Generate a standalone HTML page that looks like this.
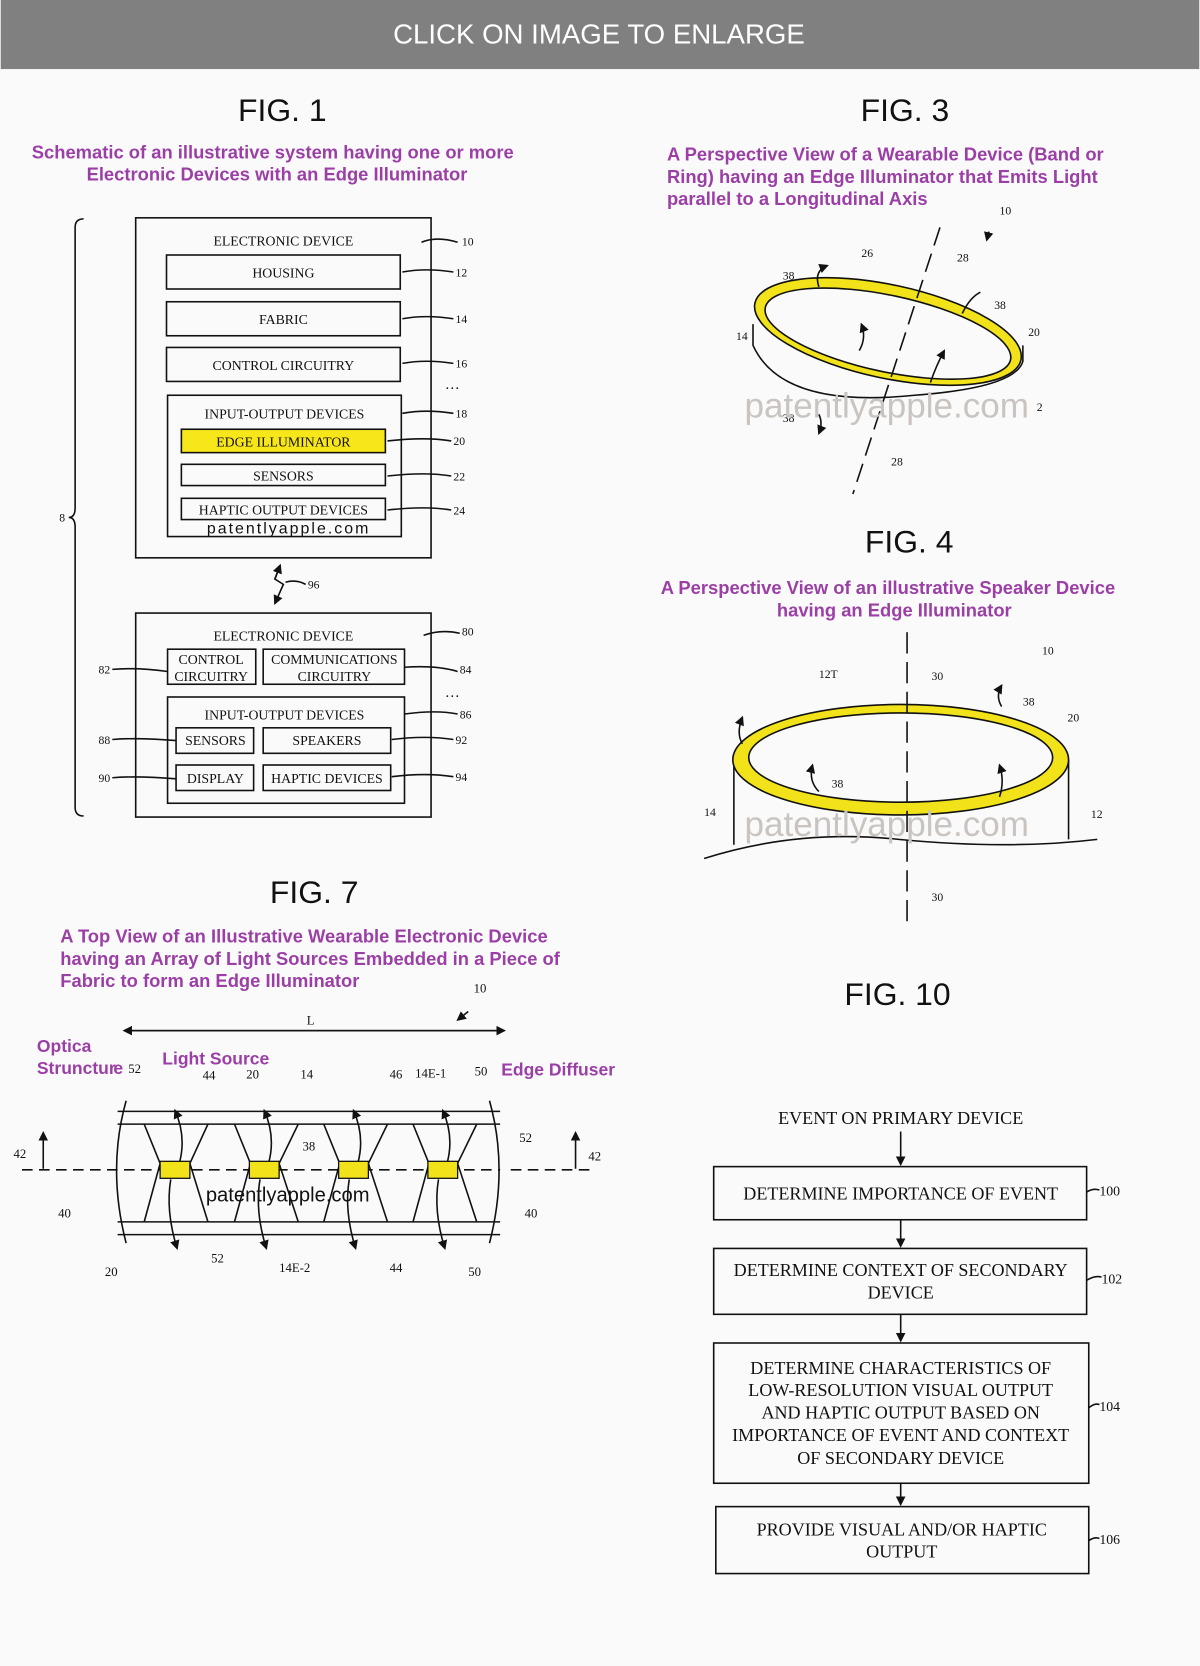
<!DOCTYPE html>
<html><head><meta charset="utf-8"><style>
html,body{margin:0;padding:0;background:#fafafa;}
svg{display:block}
.s{font-family:"Liberation Serif",serif;fill:#111}
.p{font-family:"Liberation Sans",sans-serif;fill:#9b3fa6;font-weight:bold}
.f{font-family:"Liberation Sans",sans-serif;fill:#111}
.w{font-family:"Liberation Sans",sans-serif;fill:#c9c4c0}
</style></head><body>
<svg width="1200" height="1666" viewBox="0 0 1128 1568" xmlns="http://www.w3.org/2000/svg">
<defs><marker id="a" markerWidth="6" markerHeight="6" refX="5" refY="3" orient="auto"><path d="M0,0 L6,3 L0,6 z" fill="#111"/></marker></defs>
<rect width="1128" height="1568" fill="#fafafa"/>
<rect width="1128" height="65" fill="#808080"/>
<text x="563" y="41" font-size="26" text-anchor="middle" fill="#fff" font-family="Liberation Sans,sans-serif">CLICK ON IMAGE TO ENLARGE</text>

<!-- FIG 1 -->
<text class="f" x="265" y="114" font-size="30" text-anchor="middle">FIG. 1</text>
<text class="p" x="256" y="149" font-size="17.3" text-anchor="middle">Schematic of an illustrative system having one or more</text>
<text class="p" x="260" y="170" font-size="17.3" text-anchor="middle">Electronic Devices with an Edge Illuminator</text>
<g fill="none" stroke="#111" stroke-width="1.5">
<path d="M78,206 Q70,206 70,214 L70,478 Q70,487 64,487 Q70,487 70,496 L70,760 Q70,768 78,768"/>
<rect x="127" y="205" width="278" height="320"/>
<rect x="156" y="240" width="220" height="32"/>
<rect x="156" y="284" width="220" height="32"/>
<rect x="156" y="327" width="220" height="32"/>
<rect x="157" y="372" width="220" height="133"/>
<rect x="170" y="404" width="192" height="22" fill="#f7e61a"/>
<rect x="170" y="437" width="192" height="20"/>
<rect x="170" y="469" width="192" height="20"/>
<rect x="127" y="577" width="278" height="192"/>
<rect x="157" y="611" width="83" height="33"/>
<rect x="247" y="611" width="133" height="33"/>
<rect x="157" y="656" width="223" height="100"/>
<rect x="165" y="685" width="73" height="24"/>
<rect x="247" y="685" width="120" height="24"/>
<rect x="165" y="720" width="73" height="24"/>
<rect x="247" y="720" width="120" height="24"/>
<path d="M396,228 Q410,222 430,228 M378,256 Q400,252 426,256 M378,300 Q400,296 426,300 M378,342 Q400,338 426,342 M378,389 Q400,385 426,389 M364,415 Q400,411 424,415 M364,448 Q400,444 424,448 M364,480 Q400,476 424,480 M398,598 Q414,592 432,596 M380,628 Q410,626 430,632 M380,672 Q410,668 430,672 M368,696 Q400,692 426,696 M368,731 Q400,727 426,731 M105,630 Q130,628 157,632 M105,696 Q130,694 165,697 M105,732 Q130,730 165,733"/>
<path d="M263,532 L258,545 L266,550 L258,568" marker-end="url(#a)"/>
<path d="M258,545 L263,532" marker-end="url(#a)"/>
<path d="M268,548 Q278,545 287,550"/>
</g>
<g class="s" font-size="13" text-anchor="middle">
<text x="266" y="231">ELECTRONIC DEVICE</text>
<text x="266" y="261">HOUSING</text>
<text x="266" y="305">FABRIC</text>
<text x="266" y="348">CONTROL CIRCUITRY</text>
<text x="267" y="394">INPUT-OUTPUT DEVICES</text>
<text x="266" y="420">EDGE ILLUMINATOR</text>
<text x="266" y="452">SENSORS</text>
<text x="266" y="484">HAPTIC OUTPUT DEVICES</text>
<text x="266" y="603">ELECTRONIC DEVICE</text>
<text x="198" y="625">CONTROL</text><text x="198" y="641">CIRCUITRY</text>
<text x="314" y="625">COMMUNICATIONS</text><text x="314" y="641">CIRCUITRY</text>
<text x="267" y="677">INPUT-OUTPUT DEVICES</text>
<text x="202" y="701">SENSORS</text><text x="307" y="701">SPEAKERS</text>
<text x="202" y="737">DISPLAY</text><text x="307" y="737">HAPTIC DEVICES</text>
</g>
<g class="s" font-size="11">
<text x="434" y="231">10</text><text x="428" y="260">12</text><text x="428" y="304">14</text><text x="428" y="346">16</text>
<text x="428" y="393">18</text><text x="426" y="419">20</text><text x="426" y="452">22</text><text x="426" y="484">24</text>
<text x="434" y="598">80</text><text x="432" y="634">84</text><text x="432" y="676">86</text><text x="428" y="700">92</text><text x="428" y="735">94</text>
<text x="92" y="634">82</text><text x="92" y="700">88</text><text x="92" y="736">90</text><text x="55" y="491">8</text><text x="289" y="554">96</text>
<text x="418" y="366" font-size="14">…</text><text x="418" y="656" font-size="14">…</text>
</g>
<text class="f" x="194" y="502" font-size="15" textLength="152">patentlyapple.com</text>

<!-- FIG 3 -->
<text class="f" x="851" y="114" font-size="30" text-anchor="middle">FIG. 3</text>
<text class="p" x="627" y="151" font-size="17.3">A Perspective View of a Wearable Device (Band or</text>
<text class="p" x="627" y="172" font-size="17.3">Ring) having an Edge Illuminator that Emits Light</text>
<text class="p" x="627" y="193" font-size="17.3">parallel to a Longitudinal Axis</text>
<g fill="none" stroke="#111" stroke-width="1.5">
<path d="M708,305 L708,325 Q735,385 860,372 Q955,365 962,340 L962,325"/>
<ellipse cx="835" cy="312" rx="128" ry="44" transform="rotate(12 835 312)" fill="#f2e21a"/>
<ellipse cx="835" cy="314" rx="118" ry="36" transform="rotate(12 835 314)" fill="#fafafa"/>
<path d="M884,214 L802,465" stroke-dasharray="18,8"/>
<path d="M770,270 Q765,255 778,250" marker-end="url(#a)"/>
<path d="M905,295 Q912,280 922,275" />
<path d="M808,330 Q815,318 810,305" marker-end="url(#a)"/>
<path d="M875,360 Q880,345 888,330" marker-end="url(#a)"/>
<path d="M770,390 Q774,398 770,408" marker-end="url(#a)"/>
<path d="M930,218 L928,226" marker-end="url(#a)"/>
</g>
<g class="s" font-size="11"><text x="940" y="202">10</text><text x="810" y="242">26</text><text x="900" y="246">28</text><text x="736" y="263">38</text><text x="935" y="291">38</text><text x="967" y="316">20</text><text x="692" y="320">14</text><text x="736" y="397">38</text><text x="838" y="438">28</text><text x="975" y="387">2</text></g>
<text class="w" x="700" y="393" font-size="33">patentlyapple.com</text>

<!-- FIG 4 -->
<text class="f" x="855" y="520" font-size="30" text-anchor="middle">FIG. 4</text>
<text class="p" x="835" y="559" font-size="17.3" text-anchor="middle">A Perspective View of an illustrative Speaker Device</text>
<text class="p" x="841" y="580" font-size="17.3" text-anchor="middle">having an Edge Illuminator</text>
<g fill="none" stroke="#111" stroke-width="1.5">
<path d="M690,715 L690,795 M1005,715 L1005,790"/>
<path d="M662,808 Q750,780 845,790 Q950,800 1032,790"/>
<ellipse cx="847" cy="715" rx="158" ry="52" fill="#f2e21a"/>
<ellipse cx="847" cy="713" rx="143" ry="42" fill="#fafafa"/>
<path d="M853,595 L853,875" stroke-dasharray="20,8"/>
<path d="M698,700 Q692,690 698,675" marker-end="url(#a)"/>
<path d="M942,665 Q936,655 942,645" marker-end="url(#a)"/>
<path d="M770,745 Q760,735 764,720" marker-end="url(#a)"/>
<path d="M940,750 Q945,735 940,720" marker-end="url(#a)"/>
</g>
<g class="s" font-size="11"><text x="980" y="616">10</text><text x="770" y="638">12T</text><text x="876" y="640">30</text><text x="962" y="664">38</text><text x="1004" y="679">20</text><text x="782" y="741">38</text><text x="662" y="768">14</text><text x="1026" y="770">12</text><text x="876" y="848">30</text></g>
<text class="w" x="700" y="787" font-size="33">patentlyapple.com</text>

<!-- FIG 7 -->
<text class="f" x="295" y="850" font-size="30" text-anchor="middle">FIG. 7</text>
<text class="p" x="56" y="887" font-size="17.3">A Top View of an Illustrative Wearable Electronic Device</text>
<text class="p" x="56" y="908" font-size="17.3">having an Array of Light Sources Embedded in a Piece of</text>
<text class="p" x="56" y="929" font-size="17.3">Fabric to form an Edge Illuminator</text>
<text class="p" x="34" y="990" font-size="16.5">Optica</text>
<text class="p" x="34" y="1011" font-size="16.5">Strunctur</text><text class="p" x="106" y="1011" font-size="16.5">e</text>
<text class="p" x="152" y="1002" font-size="16.5">Light Source</text>
<text class="p" x="471" y="1012" font-size="16.5">Edge Diffuser</text>
<g fill="none" stroke="#111" stroke-width="1.5">
<path d="M116,970 L474,970" marker-end="url(#a)"/><path d="M474,970 L116,970" marker-end="url(#a)"/>
<path d="M110,1046 L470,1046 M110,1058 L470,1058 M110,1150 L470,1150 M110,1162 L470,1162"/>
<path d="M118,1036 Q100,1100 118,1170 M460,1036 Q478,1100 460,1170"/>
<path d="M20,1101 L470,1101 M480,1101 L560,1101" stroke-dasharray="10,6"/>
<path d="M40,1100 L40,1066" marker-end="url(#a)"/><path d="M541,1100 L541,1066" marker-end="url(#a)"/>
<path d="M135,1058 L150,1095 L135,1150 M195,1058 L178,1095 L195,1150"/>
<path d="M220,1058 L235,1095 L220,1150 M280,1058 L262,1095 L280,1150"/>
<path d="M304,1058 L319,1095 L304,1150 M364,1058 L346,1095 L364,1150"/>
<path d="M388,1058 L403,1095 L388,1150 M448,1058 L430,1095 L448,1150"/>
<path d="M168,1095 Q175,1070 164,1045" marker-end="url(#a)"/>
<path d="M252,1095 Q259,1070 248,1045" marker-end="url(#a)"/>
<path d="M336,1095 Q343,1070 332,1045" marker-end="url(#a)"/>
<path d="M420,1095 Q427,1070 416,1045" marker-end="url(#a)"/>
<path d="M160,1110 Q155,1140 166,1175" marker-end="url(#a)"/>
<path d="M244,1110 Q239,1140 250,1175" marker-end="url(#a)"/>
<path d="M328,1110 Q323,1140 334,1175" marker-end="url(#a)"/>
<path d="M412,1110 Q407,1140 418,1175" marker-end="url(#a)"/>
<path d="M440,952 L430,960" marker-end="url(#a)"/>
</g>
<g fill="#f2e21a" stroke="#111" stroke-width="1.2">
<rect x="150" y="1093" width="28" height="16"/><rect x="234" y="1093" width="28" height="16"/><rect x="318" y="1093" width="28" height="16"/><rect x="402" y="1093" width="28" height="16"/>
</g>
<g class="s" font-size="12"><text x="288" y="964">L</text><text x="445" y="934">10</text><text x="120" y="1010">52</text><text x="190" y="1016">44</text><text x="231" y="1015">20</text><text x="282" y="1015">14</text><text x="366" y="1015">46</text><text x="390" y="1014">14E-1</text><text x="446" y="1012">50</text><text x="488" y="1075">52</text><text x="284" y="1083">38</text><text x="12" y="1090">42</text><text x="553" y="1092">42</text><text x="54" y="1146">40</text><text x="493" y="1146">40</text><text x="98" y="1201">20</text><text x="198" y="1188">52</text><text x="262" y="1197">14E-2</text><text x="366" y="1197">44</text><text x="440" y="1201">50</text></g>
<text class="f" x="193" y="1131" font-size="19">patentlyapple.com</text>

<!-- FIG 10 -->
<text class="f" x="844" y="946" font-size="30" text-anchor="middle">FIG. 10</text>
<g fill="none" stroke="#111" stroke-width="1.5">
<rect x="671" y="1098" width="351" height="50"/>
<rect x="671" y="1175" width="351" height="62"/>
<rect x="671" y="1264" width="353" height="132"/>
<rect x="673" y="1418" width="351" height="63"/>
<path d="M847,1065 L847,1096" marker-end="url(#a)"/>
<path d="M847,1148 L847,1173" marker-end="url(#a)"/>
<path d="M847,1237 L847,1262" marker-end="url(#a)"/>
<path d="M847,1396 L847,1416" marker-end="url(#a)"/>
<path d="M1022,1122 Q1028,1118 1034,1120 M1022,1205 Q1030,1200 1036,1202 M1024,1325 Q1030,1320 1034,1322 M1024,1450 Q1030,1446 1034,1448"/>
</g>
<g class="s" font-size="17" text-anchor="middle">
<text x="847" y="1058">EVENT ON PRIMARY DEVICE</text>
<text x="847" y="1129">DETERMINE IMPORTANCE OF EVENT</text>
<text x="847" y="1201">DETERMINE CONTEXT OF SECONDARY</text><text x="847" y="1222">DEVICE</text>
<text x="847" y="1293">DETERMINE CHARACTERISTICS OF</text>
<text x="847" y="1314">LOW-RESOLUTION VISUAL OUTPUT</text>
<text x="847" y="1335">AND HAPTIC OUTPUT BASED ON</text>
<text x="847" y="1356">IMPORTANCE OF EVENT AND CONTEXT</text>
<text x="847" y="1378">OF SECONDARY DEVICE</text>
<text x="848" y="1445">PROVIDE VISUAL AND/OR HAPTIC</text><text x="848" y="1466">OUTPUT</text>
</g>
<g class="s" font-size="13"><text x="1034" y="1125">100</text><text x="1036" y="1208">102</text><text x="1034" y="1328">104</text><text x="1034" y="1453">106</text></g>
</svg>
</body></html>
